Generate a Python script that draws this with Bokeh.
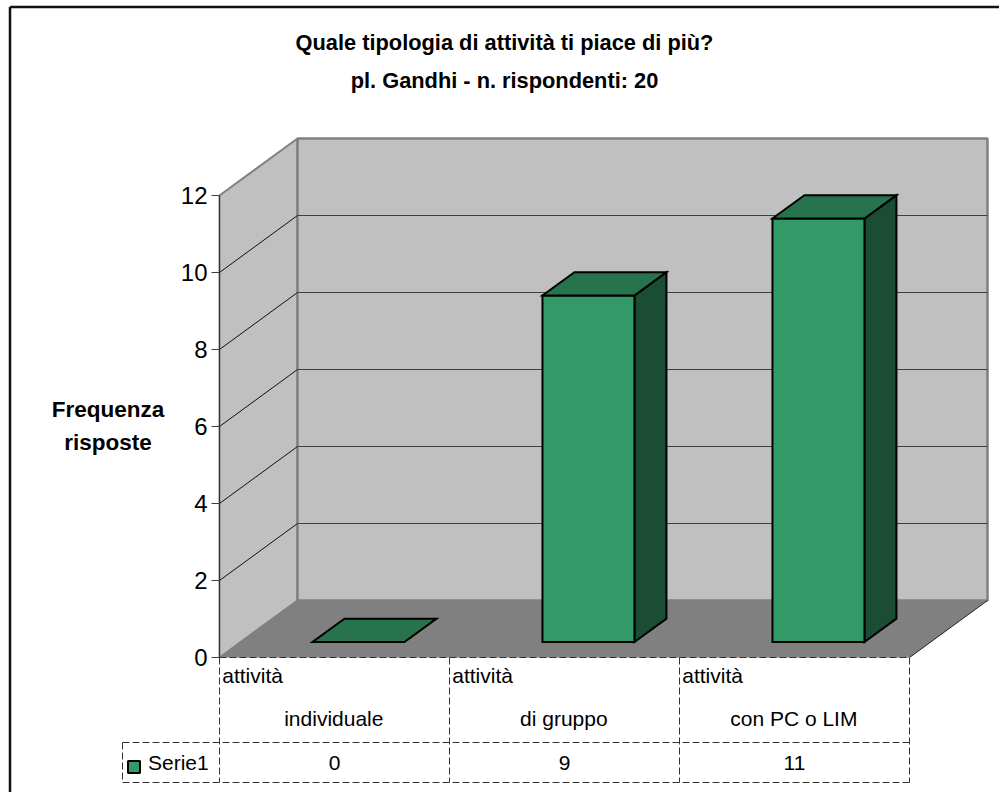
from bokeh.plotting import figure
from bokeh.embed import file_html
from bokeh.resources import INLINE
from bokeh.models import FixedTicker, Range1d
from bokeh.core.properties import value

# ---- data ----
categories_top = ["attività", "attività", "attività"]
categories_bottom = ["individuale", "di gruppo", "con PC o LIM"]
series_name = "Serie1"
series_values = [0, 9, 11]
y_ticks = [0, 2, 4, 6, 8, 10, 12]
title_lines = ["Quale tipologia di attività ti piace di più?", "pl. Gandhi - n. rispondenti: 20"]
y_title_lines = ["Frequenza", "risposte"]

# ---- scale: one category = 230 px, one value unit = 38.5 px ----
W, H = 999, 792
X0, Y0 = 219, 657
UX, UY = 230.0, 38.5
DX, DY = 78 / UX, 57 / UY          # depth of the 3-D box in data units
YMAX = 12
GREY_WALL, GREY_FLOOR, GREY_EDGE = "#C0C0C0", "#808080", "#808080"
FRONT, TOP, SIDE = "#339966", "#26734D", "#1A4D33"
FONT = value("Liberation Sans")


def px(x):
    return (x - X0) / UX


def py(y):
    return (Y0 - y) / UY


p = figure(width=W, height=H, output_backend="svg", toolbar_location=None,
           x_range=Range1d(px(0), px(W)), y_range=Range1d(py(H), py(0)),
           min_border=0, min_border_left=0, min_border_right=0, min_border_top=0, min_border_bottom=0,
           x_axis_location=None, y_axis_location="left")
p.grid.visible = False
p.outline_line_color = None
p.background_fill_color = "white"
p.border_fill_color = "white"

# y axis fixed on the front edge of the box
ax = p.yaxis[0]
ax.fixed_location = 0
ax.bounds = (0, YMAX)
ax.ticker = FixedTicker(ticks=y_ticks)
ax.axis_line_color = "#303030"
ax.axis_line_width = 1
ax.major_tick_line_color = "#404040"
ax.major_tick_out = 8
ax.major_tick_in = 0
ax.minor_tick_line_color = None
ax.major_label_text_font = "Liberation Sans"
ax.major_label_text_font_size = "24px"
ax.major_label_text_color = "black"
ax.major_label_standoff = 4

# outer frame (left and top edges visible)
p.line([px(9.5), px(9.5)], [py(H), py(6.5)], line_color="#111111", line_width=2.5)
p.line([px(9.5), px(W)], [py(6.5), py(6.5)], line_color="#111111", line_width=2.5)

# walls and floor
n = len(categories_top)
p.patch([0, DX, DX, 0], [0, DY, YMAX + DY, YMAX], fill_color=GREY_WALL, line_color=GREY_EDGE, line_width=2)
p.patch([DX, n + DX, n + DX, DX], [DY, DY, YMAX + DY, YMAX + DY], fill_color=GREY_WALL, line_color=GREY_EDGE, line_width=2.5)
p.patch([0, DX, n + DX, n], [0, DY, DY, 0], fill_color=GREY_FLOOR, line_color=None)
p.line([n, n + DX], [0, DY], line_color="#222222", line_width=1)

# gridlines
for t in y_ticks[1:-1]:
    p.line([0, DX], [t, t + DY], line_color="#101010", line_width=1)
    p.line([DX, n + DX], [t + DY, t + DY], line_color="#404040", line_width=1)

# bars
D0 = 15.5 / 57
D1 = D0 + 0.41
WIDTH = 92 / UX
OFFS = 0.012
for i, v in enumerate(series_values):
    x0 = i + 0.5 + OFFS + D0 * DX - WIDTH / 2
    x1 = x0 + WIDTH
    y0 = D0 * DY
    d = (D1 - D0)
    kw = dict(line_color="black", line_width=2, line_join="miter")
    if v > 0:
        p.patch([x1, x1 + d * DX, x1 + d * DX, x1],
                [y0, y0 + d * DY, y0 + v + d * DY, y0 + v], fill_color=SIDE, **kw)
        p.patch([x0, x1, x1, x0], [y0, y0, y0 + v, y0 + v], fill_color=FRONT, **kw)
    p.patch([x0, x1, x1 + d * DX, x0 + d * DX],
            [y0 + v, y0 + v, y0 + v + d * DY, y0 + v + d * DY], fill_color=TOP, **kw)

# data table
dash = dict(line_color="#333333", line_width=1, line_dash="7 3")
ROW1, ROW2 = py(742), py(782)
LEFT = px(122)
for i in range(n + 1):
    p.line([i, i], [0, ROW2], **dash)
p.line([0, n], [0, 0], **dash)
p.line([LEFT, n], [ROW1, ROW1], **dash)
p.line([LEFT, n], [ROW2, ROW2], **dash)
p.line([LEFT, LEFT], [ROW1, ROW2], **dash)

txt = dict(text_font=FONT, text_font_size="21px", text_color="black")
p.text([i + 0.012 for i in range(n)], [py(675)] * n, text=categories_top,
       text_align="left", text_baseline="alphabetic", **txt)
p.text([i + 0.497 for i in range(n)], [py(718)] * n, text=categories_bottom,
       text_align="center", text_baseline="alphabetic", **txt)
p.text([i + 0.5 for i in range(n)], [py(762)] * n, text=[str(v) for v in series_values],
       text_align="center", text_baseline="alphabetic", **txt)
p.text([px(147.5)], [py(762)], text=[series_name], text_align="left", text_baseline="alphabetic", **txt)
p.scatter([px(133.5)], [py(766.5)], marker="square", size=12, fill_color=FRONT, line_color="black", line_width=2)

# titles
ttl = dict(text_font=FONT, text_font_style="bold", text_color="black", text_align="center", text_baseline="alphabetic")
p.text([px(504)], [py(42)], text=[title_lines[0]], text_font_size="21.8px", **ttl)
p.text([px(504)], [py(80)], text=[title_lines[1]], text_font_size="21.8px", **ttl)
p.text([px(107.5)], [py(409)], text=[y_title_lines[0]], text_font_size="22.5px", **ttl)
p.text([px(107.5)], [py(442)], text=[y_title_lines[1]], text_font_size="22.5px", **ttl)

open("out.html", "w").write(file_html(p, INLINE))
